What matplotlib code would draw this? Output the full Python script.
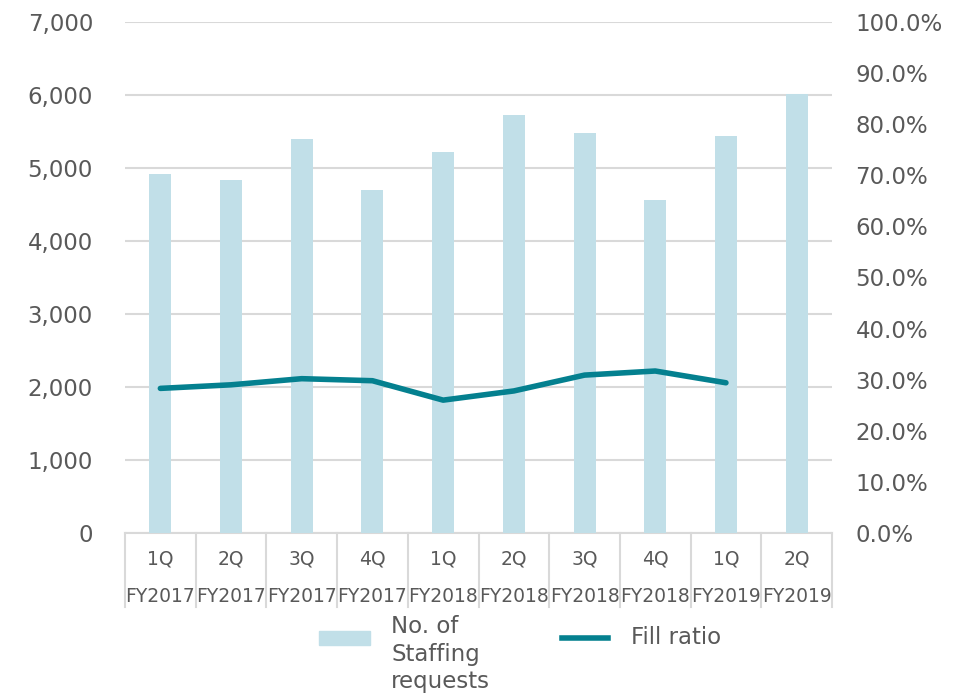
import numpy as np
import matplotlib.pyplot as plt
from matplotlib.patches import Rectangle
from matplotlib.lines import Line2D
from matplotlib.ticker import FuncFormatter, MultipleLocator

# -------------------------------
# DATA
# -------------------------------
quarters = ["1Q", "2Q", "3Q", "4Q", "1Q", "2Q", "3Q", "4Q", "1Q", "2Q"]
years = ["FY2017", "FY2017", "FY2017", "FY2017", "FY2018",
         "FY2018", "FY2018", "FY2018", "FY2019", "FY2019"]
requests = [4920, 4830, 5395, 4705, 5215, 5720, 5475, 4555, 5445, 6010]
fill_ratio = [0.283, 0.290, 0.302, 0.298, 0.260, 0.278, 0.309, 0.317, 0.294, np.nan]

bar_color = "#C1DFE8"
line_color = "#04808F"
text_color = "#595959"
grid_color = "#D9D9D9"

plt.rcParams["font.family"] = "DejaVu Sans"

fig = plt.figure(figsize=(9.63, 6.97), dpi=100)
ax = fig.add_axes([125 / 963, 1 - 533 / 697, 707 / 963, 511 / 697])
ax2 = ax.twinx()

x = np.arange(len(quarters))

# -------------------------------
# BARS (left axis)
# -------------------------------
ax.bar(x, requests, width=0.31, color=bar_color, zorder=2)
ax.set_xlim(-0.5, len(quarters) - 0.5)
ax.set_ylim(0, 7000)
ax.yaxis.set_major_locator(MultipleLocator(1000))
ax.yaxis.set_major_formatter(FuncFormatter(lambda v, p: f"{int(v):,}"))
ax.grid(axis="y", color=grid_color, linewidth=1.5, zorder=0)
ax.set_axisbelow(True)
ax.tick_params(axis="y", length=0, pad=23, labelsize=16.5, labelcolor=text_color)
ax.set_xticks([])

# -------------------------------
# LINE (right axis)
# -------------------------------
ax2.plot(x, fill_ratio, color=line_color, linewidth=4,
         solid_capstyle="round", solid_joinstyle="round", zorder=3)
ax2.set_ylim(0, 1)
ax2.yaxis.set_major_locator(MultipleLocator(0.1))
ax2.yaxis.set_major_formatter(FuncFormatter(lambda v, p: f"{v * 100:.1f}%"))
ax2.tick_params(axis="y", length=0, pad=17, labelsize=16.5, labelcolor=text_color)

for a in (ax, ax2):
    for s in a.spines.values():
        s.set_visible(False)

# -------------------------------
# CATEGORY TABLE BELOW AXIS
# -------------------------------
trans = ax.get_xaxis_transform()
box_bottom = -74 / 511
ax.plot([-0.5, len(quarters) - 0.5], [0, 0], color=grid_color, linewidth=1.5,
        transform=trans, clip_on=False, zorder=1)
for b in np.arange(len(quarters) + 1) - 0.5:
    ax.plot([b, b], [0, box_bottom], color=grid_color, linewidth=1.5,
            transform=trans, clip_on=False)
for i, (q, yr) in enumerate(zip(quarters, years)):
    ax.text(i, -26 / 511, q, transform=trans, ha="center", va="center",
            fontsize=13.5, color=text_color)
    ax.text(i, -63 / 511, yr, transform=trans, ha="center", va="center",
            fontsize=13.5, color=text_color)

# -------------------------------
# LEGEND
# -------------------------------
W, H = 963, 697
fig.add_artist(Rectangle((319 / W, 1 - 645 / H), 51 / W, 14 / H,
                         transform=fig.transFigure, color=bar_color))
fig.text(391 / W, 1 - 615 / H, "No. of\nStaffing\nrequests", ha="left", va="top",
         fontsize=16.5, color=text_color, linespacing=1.25)
fig.add_artist(Line2D([562 / W, 608 / W], [1 - 638 / H, 1 - 638 / H],
                      transform=fig.transFigure, color=line_color, linewidth=4))
fig.text(631 / W, 1 - 637 / H, "Fill ratio", ha="left", va="center",
         fontsize=16.5, color=text_color)

fig.savefig("out.png", dpi=100)
